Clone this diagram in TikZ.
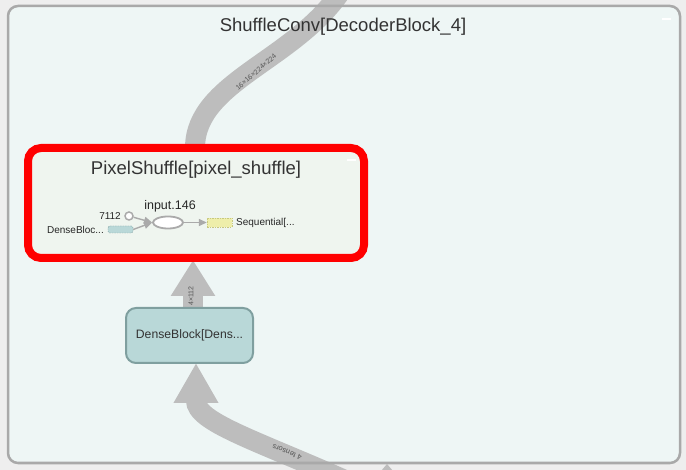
\documentclass[tikz,border=0pt]{standalone}
\usepackage{fontspec}
\setmainfont{Liberation Sans}
\usetikzlibrary{calc,shapes.geometric,arrows.meta}
\definecolor{bgout}{HTML}{EEEEEE}
\definecolor{boxfill}{HTML}{EEF6F5}
\definecolor{boxline}{HTML}{A9A9A9}
\definecolor{bandc}{HTML}{BDBDBD}
\definecolor{psfill}{HTML}{EFF5EF}
\definecolor{dbfill}{HTML}{B9D8D8}
\definecolor{dbline}{HTML}{7F9F9F}
\definecolor{txt}{HTML}{333333}
\definecolor{ngray}{HTML}{AAAAAA}
\definecolor{ylw}{HTML}{EEEEAA}
\definecolor{yline}{HTML}{C8C880}
\definecolor{lbl}{HTML}{555555}
\tikzset{
  bandline/.style={draw=bandc, line width=20pt},
  edgelbl/.style={text=lbl, font=\fontsize{7}{8}\selectfont, inner sep=0pt},
  garrow/.style={draw=ngray, line width=1.4pt, -{Triangle[length=8pt,width=7pt]}},
  small/.style={font=\fontsize{10}{12}\selectfont, text=black!85, inner sep=0pt},
}
\begin{document}
\begin{tikzpicture}[x=1pt,y=-1pt]
\useasboundingbox (0,0) rectangle (686,470);
\clip (0,0) rectangle (686,470);
\fill[bgout] (0,0) rectangle (686,470);
% outer cluster
\node[fill=boxfill, rounded corners=10pt, minimum width=672pt, minimum height=457pt, inner sep=0pt, outer sep=0pt] (outer) at (344,234.5) {};
% nodes (positions)
\path node[rectangle, minimum width=336pt, minimum height=110pt, inner sep=0pt, outer sep=0pt] (ps) at (196,203) {};
\path node[rectangle, minimum width=127pt, minimum height=55pt, inner sep=0pt, outer sep=0pt] (dense) at (189.5,335.5) {};
\coordinate (topend) at (345,-15);
\coordinate (botstart) at (345,480);
% bands
\draw[bandline] ($(ps.north)+(-1,0)$) .. controls (195,80) and (300,60) .. (topend);
\node[edgelbl, rotate=41] (toplbl) at (256,72) {16×16×224×224};
\draw[bandline, -{Triangle[length=36pt,width=42pt]}] ($(dense.north)+(3.5,0)$) -- ($(ps.south)+(-3,2)$);
\node[edgelbl, rotate=90] (vlbl) at (191,296) {4×112};
\draw[bandline, -{Triangle[length=40pt,width=42pt]}] (botstart) .. controls (255,440) and (196,422) .. ($(dense.south)+(6.5,0)$);
\node[edgelbl, rotate=158, font=\fontsize{7.5}{8}\selectfont] (botlbl) at (287,452) {4 tensors};
\coordinate (belowtip) at (387,464);
\fill[bandc] (belowtip) -- ++(6,7) -- ++(-12,0) -- cycle;
% outer border
\draw[boxline, line width=2.5pt, rounded corners=10pt] (outer.north west) rectangle (outer.south east);
\node[text=txt, font=\fontsize{18.5}{20}\selectfont] (outertitle) at (343,27) {ShuffleConv[DecoderBlock\_4]};
\draw[white, line width=1.6pt] (662,19) -- (671,19);
% pixel shuffle
\draw[red, fill=psfill, line width=8pt, rounded corners=13pt] (ps.north west) rectangle (ps.south east);
\node[text=txt, font=\fontsize{18.5}{20}\selectfont] (pstitle) at (196,170) {PixelShuffle[pixel\_shuffle]};
\draw[white, line width=1.6pt] (347,160) -- (356,160);
% inner graph
\node[circle, draw=ngray, fill=white, line width=1.5pt, minimum size=8pt, inner sep=0pt] (c7112) at (129,216) {};
\node[small, anchor=east] (l7112) at (121,216) {7112};
\node[rectangle, rounded corners=1.5pt, draw=dbline, dash pattern=on 1.5pt off 1pt, fill=dbfill, minimum width=25pt, minimum height=7pt, inner sep=0pt] (dbin) at (120.5,229.5) {};
\node[small, anchor=east] (ldb) at (104,230) {DenseBloc...};
\node[ellipse, draw=ngray, fill=white, line width=1.8pt, minimum width=30pt, minimum height=12pt, inner sep=0pt] (inp) at (168,222.5) {};
\node[text=black!85, font=\fontsize{12.5}{14}\selectfont, inner sep=0pt] (linp) at (170,206) {input.146};
\node[rectangle, draw=yline, dash pattern=on 1.5pt off 1pt, fill=ylw, minimum width=25pt, minimum height=9pt, inner sep=0pt] (seq) at (219.5,222.5) {};
\node[small, anchor=west] (lseq) at (236,223) {Sequential[...};
\draw[garrow] (c7112) -- (inp.west);
\draw[garrow] (dbin.east) -- (inp.west);
\draw[garrow] (inp) -- (seq);
% dense block
\draw[dbline, fill=dbfill, line width=2pt, rounded corners=10pt] (dense.north west) rectangle (dense.south east);
\node[text=txt, font=\fontsize{12.2}{14}\selectfont] (dlabel) at (dense.center) {DenseBlock[Dens...};
\end{tikzpicture}
\end{document}
